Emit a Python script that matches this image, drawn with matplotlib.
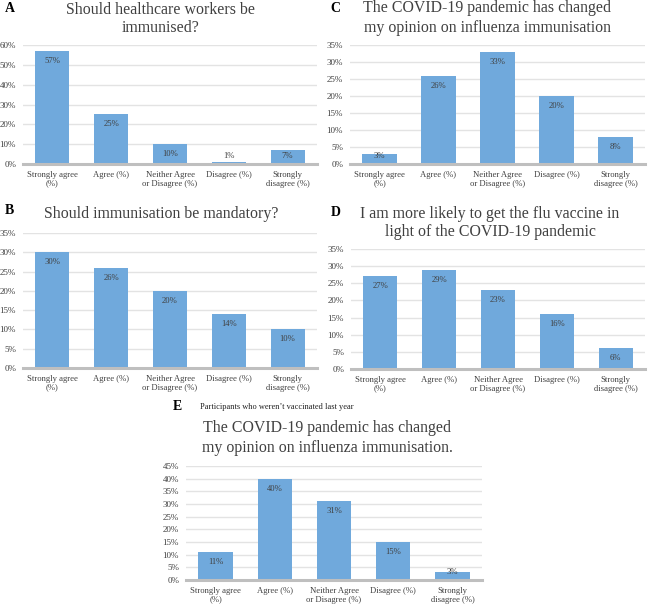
import matplotlib
matplotlib.use("Agg")
import matplotlib.pyplot as plt

plt.rcParams['font.family'] = ['Liberation Serif', 'DejaVu Serif']

categories = ["Strongly agree\n(%)", "Agree (%)", "Neither Agree\nor Disagree (%)",
              "Disagree (%)", "Strongly\ndisagree (%)"]

vals_a = [57, 25, 10, 1, 7]
vals_b = [30, 26, 20, 14, 10]
vals_c = [3, 26, 33, 20, 8]
vals_d = [27, 29, 23, 16, 6]
vals_e = [11, 40, 31, 15, 3]

title_a = "Should healthcare workers be\nimmunised?"
title_b = "Should immunisation be mandatory?"
title_c = "The COVID-19 pandemic has changed\nmy opinion on influenza immunisation"
title_d = "I am more likely to get the flu vaccine in\nlight of the COVID-19 pandemic"
title_e = "The COVID-19 pandemic has changed\nmy opinion on influenza immunisation."
subtitle_e = "Participants who weren\u2019t vaccinated last year"

W, H = 650, 605
DPI = 100
fig = plt.figure(figsize=(W / DPI, H / DPI), dpi=DPI)
fig.patch.set_facecolor('white')

BAR = '#70a9dc'
TXT = '#404040'


def px_ax(l, t, r, b):
    return fig.add_axes([l / W, 1 - b / H, (r - l) / W, (b - t) / H])


def draw(vals, ymax, box):
    ax = px_ax(*box)
    x = list(range(len(vals)))
    ax.bar(x, vals, width=0.58, color=BAR, zorder=2)
    ax.set_xlim(-0.5, len(vals) - 0.5)
    ax.set_ylim(0, ymax)
    step = 10 if ymax == 60 else 5
    ticks = list(range(0, ymax + 1, step))
    ax.set_yticks(ticks)
    ax.set_yticklabels([f"{t}%" for t in ticks], fontsize=6.5, color=TXT)
    ax.set_xticks(x)
    ax.set_xticklabels(categories, fontsize=6.2, color=TXT, linespacing=1.1)
    ax.tick_params(axis='both', length=0, pad=5)
    for s in ['top', 'right', 'left']:
        ax.spines[s].set_visible(False)
    ax.spines['bottom'].set_color('#bfbfbf')
    ax.spines['bottom'].set_linewidth(2.2)
    ax.spines['bottom'].set_zorder(3)
    ax.yaxis.grid(True, color='#e3e3e3', linewidth=1.0, zorder=0)
    ax.set_axisbelow(True)
    h_px = box[3] - box[1]
    per_px = ymax / h_px
    for i, v in enumerate(vals):
        y = max(v - 10 * per_px, 8 * per_px)
        ax.text(i, y, f"{v}%", ha='center', va='center', fontsize=6.2, color=TXT, zorder=4)
    return ax


draw(vals_a, 60, (23, 45, 317, 164))
draw(vals_c, 35, (350, 45, 645, 164))
draw(vals_b, 35, (23, 233, 317, 368))
draw(vals_d, 35, (351, 249, 645, 369))
draw(vals_e, 45, (186, 466, 482, 580))


def ftext(xp, yp, s, **kw):
    fig.text(xp / W, 1 - yp / H, s, **kw)


tkw = dict(fontsize=11.4, color=TXT, ha='center', va='center', linespacing=1.25)
ftext(161, 19, title_a, **tkw)
ftext(487, 18, title_c, **tkw)
ftext(161, 214, title_b, **tkw)
ftext(490, 223, title_d, **tkw)
ftext(327, 438, title_e, **tkw)
ftext(200, 407, subtitle_e, fontsize=6, color='#202020', ha='left', va='center')

lkw = dict(fontsize=10, fontweight='bold', color='black', ha='left', va='center')
ftext(5, 8, "A", **lkw)
ftext(5, 211, "B", **lkw)
ftext(330, 8, "C", **lkw)
ftext(331, 212, "D", **lkw)
ftext(173, 407, "E", **lkw)

fig.savefig("out.png", dpi=DPI, facecolor='white')
